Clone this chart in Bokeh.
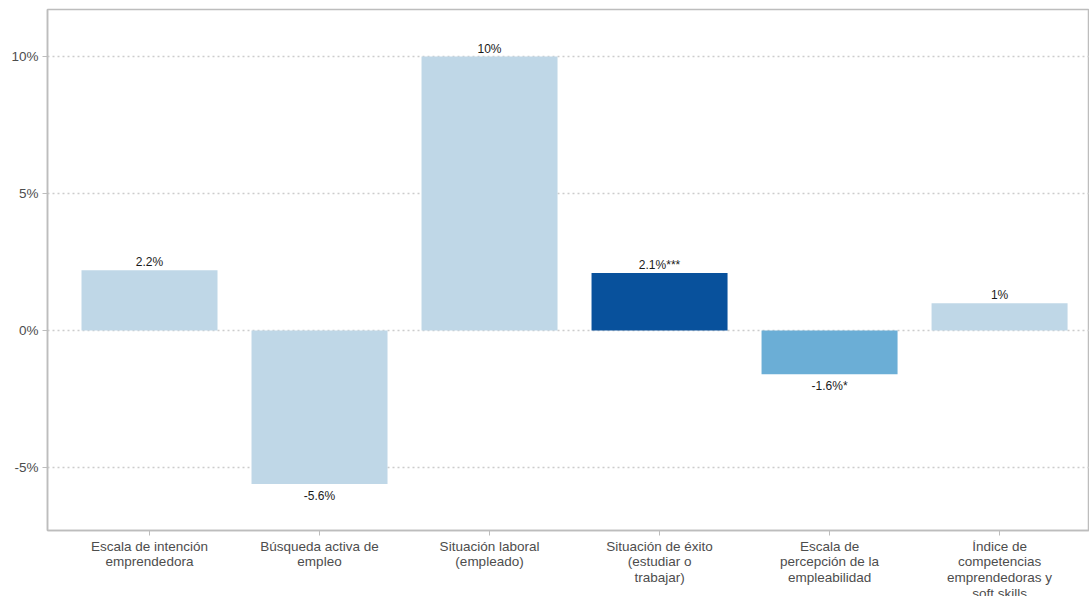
from bokeh.plotting import figure
from bokeh.layouts import column
from bokeh.models import ColumnDataSource, FixedTicker, Range1d
from bokeh.embed import file_html
from bokeh.resources import INLINE
from bokeh.core.properties import value

categories = [
    "Escala de intención\nemprendedora",
    "Búsqueda activa de\nempleo",
    "Situación laboral\n(empleado)",
    "Situación de éxito\n(estudiar o\ntrabajar)",
    "Escala de\npercepción de la\nempleabilidad",
    "Índice de\ncompetencias\nemprendedoras y\nsoft skills",
]
values = [2.2, -5.6, 10.0, 2.1, -1.6, 1.0]
value_labels = ["2.2%", "-5.6%", "10%", "2.1%***", "-1.6%*", "1%"]
bar_colors = ["#bfd7e7", "#bfd7e7", "#bfd7e7", "#08519c", "#6baed6", "#bfd7e7"]
y_ticks = [-5, 0, 5, 10]
y_tick_labels = ["-5%", "0%", "5%", "10%"]

FONT = "Liberation Sans"
GRAY = "#4d4d4d"
AXIS = "#bdbdbd"

xs = list(range(len(categories)))
src = ColumnDataSource(dict(x=xs, top=values, color=bar_colors, label=value_labels))
pos = ColumnDataSource(dict(
    x=[x for x, v in zip(xs, values) if v >= 0],
    y=[v for v in values if v >= 0],
    t=[l for l, v in zip(value_labels, values) if v >= 0],
))
neg = ColumnDataSource(dict(
    x=[x for x, v in zip(xs, values) if v < 0],
    y=[v for v in values if v < 0],
    t=[l for l, v in zip(value_labels, values) if v < 0],
))

x_range = Range1d(-0.6, 5.529)
y0, y1 = -7.3, 11.72
p = figure(width=1089, height=540, output_backend="svg", toolbar_location=None,
           x_range=x_range, y_range=Range1d(y0, y1),
           min_border_left=47, min_border_right=0, min_border_top=9, min_border_bottom=10)
p.background_fill_color = "white"
p.border_fill_color = "white"
p.outline_line_color = AXIS
p.outline_line_width = 1.5

p.vbar(x="x", top="top", bottom=0, width=0.8, color="color", line_color=None, source=src)

p.text(x="x", y="y", text="t", source=pos, text_align="center", text_baseline="bottom",
       y_offset=-1, text_font=value(FONT), text_font_size="12px", text_color="#1a1a1a")
p.text(x="x", y="y", text="t", source=neg, text_align="center", text_baseline="top",
       y_offset=5, text_font=value(FONT), text_font_size="12px", text_color="#1a1a1a")

p.xgrid.visible = False
p.ygrid.ticker = FixedTicker(ticks=y_ticks)
p.ygrid.grid_line_color = "#cccccc"
p.ygrid.grid_line_dash = "2 3"
p.ygrid.grid_line_width = 1.5

p.yaxis.ticker = FixedTicker(ticks=y_ticks)
p.yaxis.major_label_overrides = {t: l for t, l in zip(y_ticks, y_tick_labels)}
p.yaxis.major_label_text_font = FONT
p.yaxis.major_label_text_font_size = "13.5px"
p.yaxis.major_label_text_color = GRAY
p.yaxis.major_label_standoff = 4
p.yaxis.major_tick_out = 5
p.yaxis.major_tick_in = 0
p.yaxis.minor_tick_line_color = None
p.yaxis.axis_line_color = AXIS
p.yaxis.axis_line_width = 1.5
p.yaxis.major_tick_line_color = AXIS

p.xaxis.ticker = FixedTicker(ticks=xs)
p.xaxis.major_label_overrides = {x: "" for x in xs}
p.xaxis.major_label_text_font_size = "1px"
p.xaxis.major_label_standoff = 0
p.xaxis.major_tick_out = 5
p.xaxis.major_tick_in = 0
p.xaxis.minor_tick_line_color = None
p.xaxis.axis_line_color = AXIS
p.xaxis.axis_line_width = 1.5
p.xaxis.major_tick_line_color = AXIS

# category labels strip, sharing the x scale
q = figure(width=1089, height=56, output_backend="svg", toolbar_location=None,
           x_range=x_range, y_range=Range1d(0, 1),
           min_border_left=47, min_border_right=0, min_border_top=0, min_border_bottom=0)
q.axis.visible = False
q.grid.visible = False
q.outline_line_color = None
q.background_fill_color = "white"
q.border_fill_color = "white"
cat_src = ColumnDataSource(dict(x=xs, y=[1] * len(xs), t=categories))
q.text(x="x", y="y", text="t", source=cat_src, text_align="center", text_baseline="top",
       y_offset=-2, text_font=value(FONT), text_font_size="13.5px", text_color=GRAY,
       text_line_height=1.06)

layout = column(p, q, spacing=0)
open("out.html", "w").write(file_html(layout, INLINE))
